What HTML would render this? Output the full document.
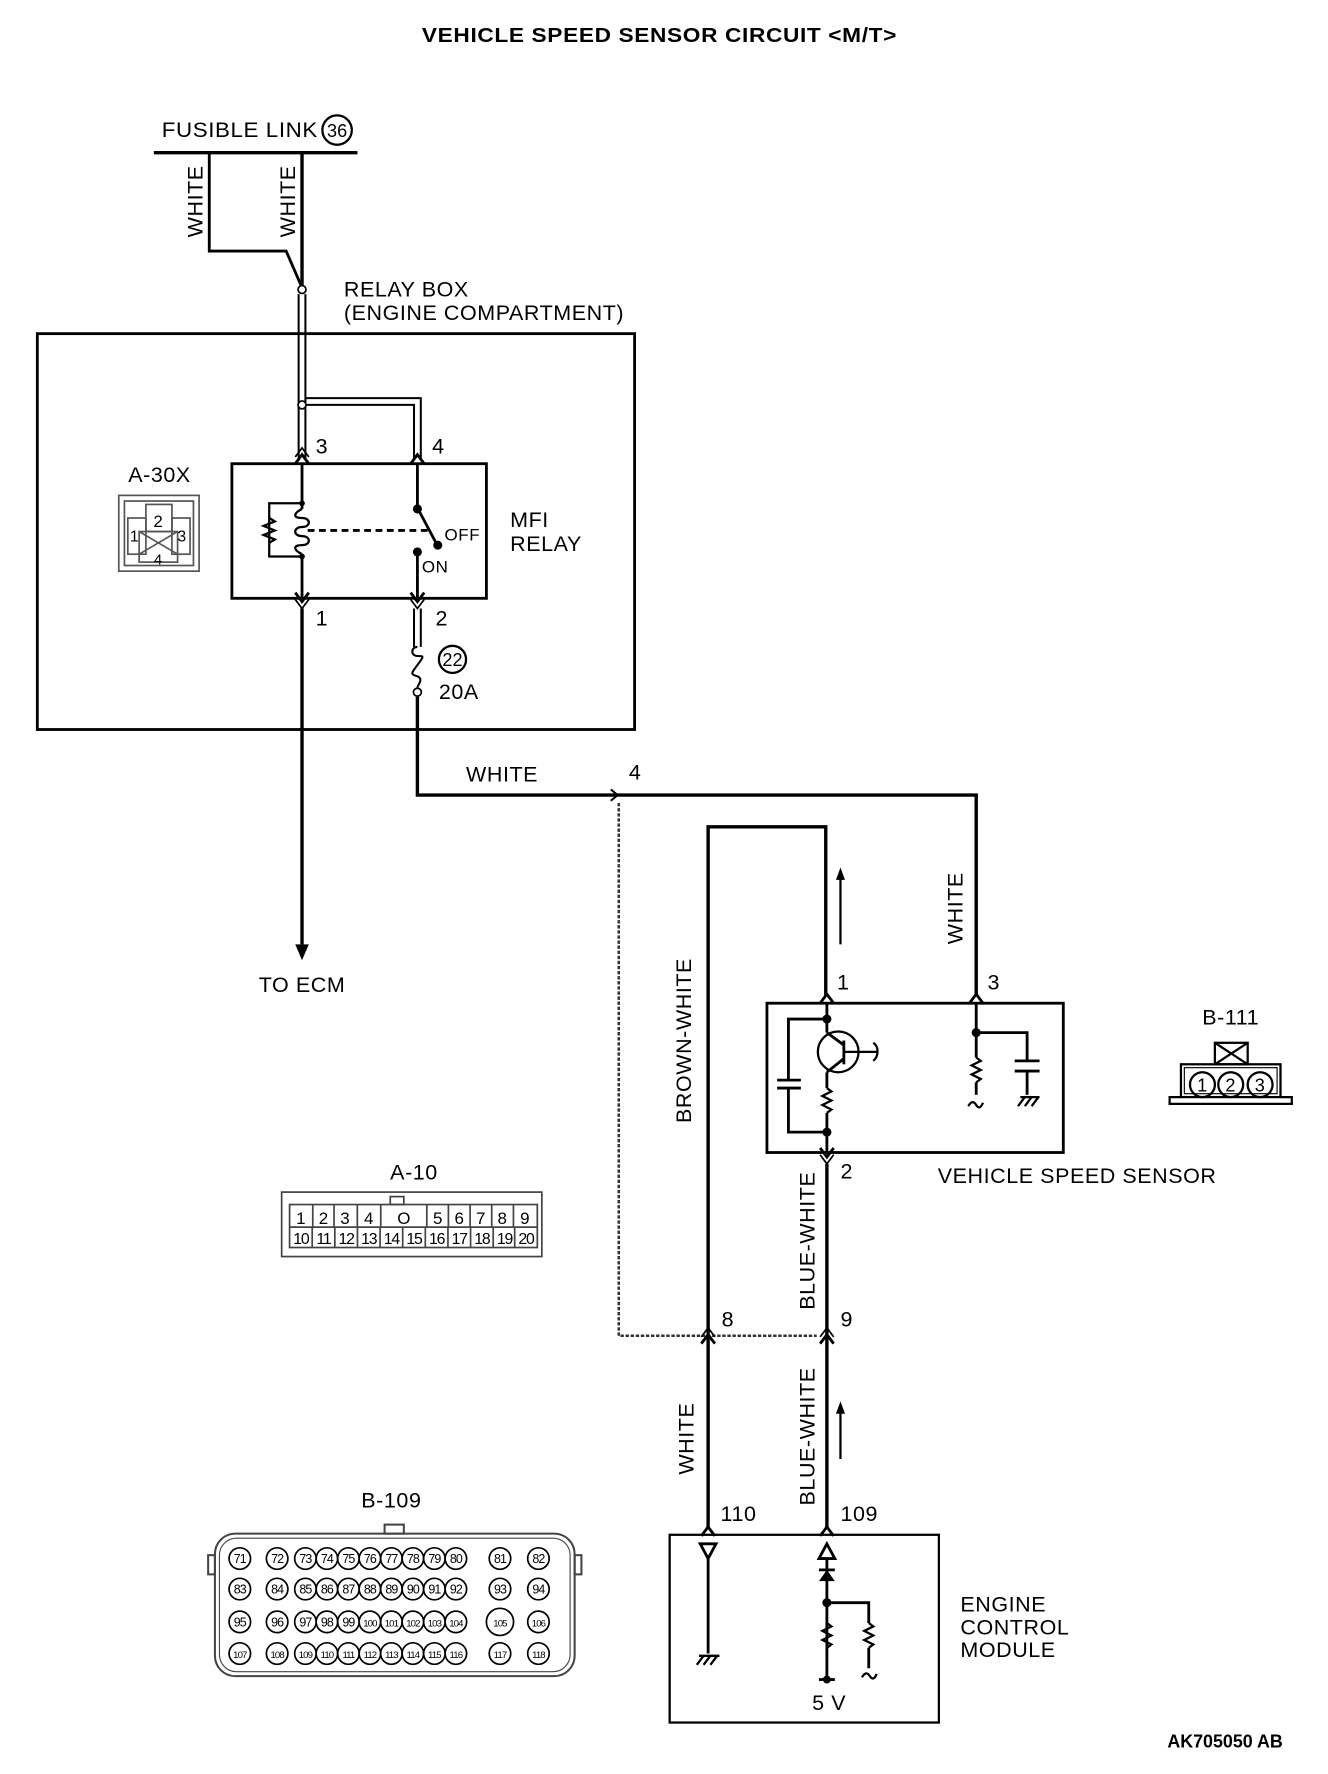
<!DOCTYPE html>
<html><head><meta charset="utf-8"><style>
html,body{margin:0;padding:0;background:#fff;}
svg{display:block;}
text{font-family:"Liberation Sans",sans-serif;fill:#000;}
</style></head><body>
<svg width="1328" height="1774" viewBox="0 0 1174 1568.5" preserveAspectRatio="none" xmlns="http://www.w3.org/2000/svg">
<g font-size="19" letter-spacing="0.5">
<text x="583" y="37" text-anchor="middle" font-weight="bold" font-size="18" textLength="420" lengthAdjust="spacingAndGlyphs" fill="#222">VEHICLE SPEED SENSOR CIRCUIT &lt;M/T&gt;</text>

<!-- fusible link -->
<text x="143" y="121" textLength="138" lengthAdjust="spacingAndGlyphs">FUSIBLE LINK</text>
<circle cx="298" cy="115" r="13" fill="none" stroke="#000" stroke-width="2"/>
<text x="298" y="121" text-anchor="middle" font-size="16" letter-spacing="0">36</text>
<line x1="136" y1="135" x2="316" y2="135" stroke="#000" stroke-width="3"/>
<polyline points="185,135 185,222 253,222 266,252" fill="none" stroke="#000" stroke-width="2.5"/>
<line x1="267" y1="135" x2="267" y2="252" stroke="#000" stroke-width="3"/>
<text transform="translate(179,178) rotate(-90)" text-anchor="middle">WHITE</text>
<text transform="translate(261,178) rotate(-90)" text-anchor="middle">WHITE</text>
<circle cx="267" cy="256" r="3.5" fill="#fff" stroke="#000" stroke-width="1.5"/>

<text x="304" y="262">RELAY BOX</text>
<text x="304" y="283">(ENGINE COMPARTMENT)</text>

<!-- relay box -->
<rect x="33" y="295" width="528" height="350" fill="none" stroke="#000" stroke-width="2.5"/>
<g stroke="#000" stroke-width="1.8" fill="none">
<line x1="264" y1="260" x2="264" y2="405"/><line x1="270" y1="260" x2="270" y2="405"/>
<polyline points="270,352 372,352 372,405"/><polyline points="270,358 366,358 366,405"/>
</g>
<circle cx="267" cy="358" r="3.5" fill="#fff" stroke="#000" stroke-width="1.5"/>
<text x="279" y="401">3</text><text x="382" y="401">4</text>
<text x="279" y="553">1</text><text x="385" y="553">2</text>

<rect x="205" y="410" width="225" height="119" fill="none" stroke="#000" stroke-width="2.5"/>
<g stroke="#000" stroke-width="2.5" fill="none">
<polyline points="261,410 267,402 273,410"/><polyline points="261,404 267,396 273,404" stroke-width="1.5"/>
<polyline points="363,410 369,402 375,410"/>
<polyline points="261,524 267,532 273,524"/><polyline points="261,530 267,538 273,530" stroke-width="1.5"/>
<polyline points="363,524 369,532 375,524"/><polyline points="363,530 369,538 375,530" stroke-width="1.5"/>
<line x1="267" y1="410" x2="267" y2="450"/><line x1="267" y1="490" x2="267" y2="529"/>
<path d="M267,450 c-8,4 -8,8 0,8 c8,0 8,8 0,8 c-8,0 -8,8 0,8 c8,0 8,8 0,8 c-8,0 -8,4 0,8" stroke-width="2"/>
<polyline points="267,445 238,445 238,492 267,492" stroke-width="2"/>
<polyline points="238,458 243,461 233,465 243,469 233,473 243,477 238,480" stroke-width="2"/>
<line x1="272" y1="469" x2="380" y2="469" stroke-dasharray="6,4"/>
<line x1="369" y1="410" x2="369" y2="449"/>
<line x1="369" y1="449" x2="386" y2="481"/>
<line x1="369" y1="488" x2="369" y2="529"/>
</g>
<circle cx="267" cy="445" r="2.5"/><circle cx="267" cy="492" r="2.5"/>
<circle cx="369" cy="450" r="4"/><circle cx="387" cy="482" r="4"/><circle cx="369" cy="488" r="4"/>
<text x="393" y="478" font-size="15">OFF</text>
<text x="373" y="506" font-size="15">ON</text>
<text x="451" y="466">MFI</text><text x="451" y="487">RELAY</text>

<!-- A-30X -->
<text x="141" y="426" text-anchor="middle">A-30X</text>
<g stroke="#555" stroke-width="1.5" fill="none">
<rect x="105" y="438" width="71" height="67"/>
<rect x="110" y="443" width="61" height="57"/>
<rect x="129" y="446" width="23" height="24"/>
<rect x="113" y="458" width="16" height="32"/>
<rect x="152" y="458" width="16" height="32"/>
<rect x="123" y="470" width="34" height="27"/>
<path d="M123,470 L157,490 M157,470 L123,490"/>
</g>
<text x="140" y="466" text-anchor="middle" font-size="15">2</text>
<text x="119" y="479" text-anchor="middle" font-size="14">1</text>
<text x="161" y="479" text-anchor="middle" font-size="14">3</text>
<text x="140" y="499" text-anchor="middle" font-size="13">4</text>

<!-- to ECM -->
<line x1="267" y1="538" x2="267" y2="835" stroke="#000" stroke-width="3"/>
<polygon points="261,835 273,835 267,849"/>
<text x="267" y="877" text-anchor="middle">TO ECM</text>

<!-- fuse -->
<g stroke="#000" stroke-width="1.8" fill="none">
<line x1="366" y1="538" x2="366" y2="572"/><line x1="372" y1="538" x2="372" y2="572"/>
<path d="M369,572 c-6,0 -6,8 0,8 c6,0 6,0 0,8 c-6,8 -6,8 0,10 c6,2 0,8 0,10"/>
</g>
<circle cx="369" cy="612" r="3.5" fill="#fff" stroke="#000" stroke-width="1.5"/>
<circle cx="400" cy="583" r="12" fill="none" stroke="#000" stroke-width="2"/>
<text x="400" y="589" text-anchor="middle" font-size="16" letter-spacing="0">22</text>
<text x="388" y="618">20A</text>

<!-- white to VSS pin 3 -->
<polyline points="369,616 369,703 863,703 863,880" fill="none" stroke="#000" stroke-width="3"/>
<polyline points="540,698 546,703 540,708 M546,698 552,703 546,708" fill="none" stroke="#000" stroke-width="1.8"/>
<text x="412" y="691">WHITE</text>
<text x="556" y="689">4</text>
<polyline points="547,710 547,1181 722,1181" fill="none" stroke="#333" stroke-width="2.2" stroke-dasharray="3,1.5"/>

<!-- brown-white loop -->
<polyline points="626,1182 626,731 730,731 730,880" fill="none" stroke="#000" stroke-width="3"/>
<text transform="translate(611,920) rotate(-90)" text-anchor="middle">BROWN-WHITE</text>
<line x1="743" y1="835" x2="743" y2="775" stroke="#000" stroke-width="2"/>
<polygon points="739,778 747,778 743,767"/>
<text transform="translate(851,803) rotate(-90)" text-anchor="middle">WHITE</text>
<text x="740" y="875">1</text><text x="873" y="875">3</text>

<!-- VSS -->
<rect x="678" y="887" width="262" height="132" fill="none" stroke="#000" stroke-width="2.5"/>
<g stroke="#000" stroke-width="2.5" fill="none">
<polyline points="725,887 731,879 737,887"/><polyline points="857,887 863,879 869,887"/>
<polyline points="725,1015 731,1023 737,1015"/><polyline points="725,1021 731,1029 737,1021" stroke-width="1.5"/>
<line x1="731" y1="887" x2="731" y2="913"/>
<polyline points="731,901 697,901 697,955"/><polyline points="697,962 697,1001 731,1001"/>
<line x1="687" y1="955" x2="708" y2="955"/><line x1="687" y1="962" x2="708" y2="962"/>
<circle cx="741" cy="930" r="18" stroke-width="2"/>
<line x1="731" y1="913" x2="746" y2="924"/><line x1="746" y1="936" x2="731" y2="948"/>
<line x1="746" y1="920" x2="746" y2="941"/>
<line x1="746" y1="930" x2="775" y2="930" stroke-width="2"/>
<path d="M772,922 c5,3 5,12 0,16" stroke-width="2"/>
<line x1="731" y1="948" x2="731" y2="962"/>
<polyline points="731,962 735,965 727,969 735,973 727,977 735,981 731,984" stroke-width="2"/>
<line x1="731" y1="984" x2="731" y2="1019"/>
<line x1="863" y1="887" x2="863" y2="935"/>
<polyline points="863,913 908,913 908,938"/>
<line x1="897" y1="938" x2="919" y2="938"/><line x1="897" y1="947" x2="919" y2="947"/>
<line x1="908" y1="947" x2="908" y2="968"/>
<path d="M900,978 l6,-8 M906,978 l6,-8 M912,978 l6,-8 M902,970 h17" stroke-width="2"/>
<polyline points="863,935 867,938 859,942 867,946 859,950 867,954 863,957" stroke-width="2"/>
<line x1="863" y1="957" x2="863" y2="968"/>
<path d="M856,978 c3,-5 5,-4 7,-1 c2,3 4,3 6,-2" stroke-width="2"/>
</g>
<circle cx="731" cy="901" r="4"/><circle cx="731" cy="1001" r="4"/><circle cx="863" cy="913" r="4"/>
<text x="743" y="1042">2</text>
<text x="829" y="1046">VEHICLE SPEED SENSOR</text>

<!-- B-111 -->
<text x="1088" y="906" text-anchor="middle">B-111</text>
<g stroke="#000" stroke-width="2" fill="none">
<rect x="1074" y="922" width="29" height="19"/>
<path d="M1074,922 L1103,941 M1103,922 L1074,941"/>
<rect x="1044" y="941" width="88" height="29"/>
<rect x="1047" y="944" width="82" height="23" stroke-width="1"/>
<polyline points="1044,970 1034,970 1034,976 1142,976 1142,970 1132,970"/>
<circle cx="1063" cy="959" r="11"/><circle cx="1088" cy="959" r="11"/><circle cx="1114" cy="959" r="11"/>
</g>
<text x="1063" y="965" text-anchor="middle" font-size="16">1</text>
<text x="1088" y="965" text-anchor="middle" font-size="16">2</text>
<text x="1114" y="965" text-anchor="middle" font-size="16">3</text>

<!-- blue-white -->
<line x1="731" y1="1029" x2="731" y2="1352" stroke="#000" stroke-width="3"/>
<line x1="626" y1="1182" x2="626" y2="1352" stroke="#000" stroke-width="3"/>
<g stroke="#000" stroke-width="2.5" fill="none">
<polyline points="620,1188 626,1180 632,1188"/><polyline points="725,1188 731,1180 737,1188"/>
<polyline points="620,1182 626,1174 632,1182" stroke-width="1.5"/><polyline points="725,1182 731,1174 737,1182" stroke-width="1.5"/>
<polyline points="620,1358 626,1350 632,1358"/><polyline points="725,1358 731,1350 737,1358"/>
</g>
<text transform="translate(720,1097) rotate(-90)" text-anchor="middle">BLUE-WHITE</text>
<text transform="translate(720,1270) rotate(-90)" text-anchor="middle">BLUE-WHITE</text>
<text transform="translate(613,1272) rotate(-90)" text-anchor="middle">WHITE</text>
<text x="638" y="1173">8</text><text x="743" y="1173">9</text>
<text x="637" y="1345">110</text><text x="743" y="1345">109</text>
<line x1="743" y1="1290" x2="743" y2="1247" stroke="#000" stroke-width="2"/>
<polygon points="739,1250 747,1250 743,1239"/>

<!-- ECM -->
<rect x="592" y="1357" width="238" height="166" fill="none" stroke="#000" stroke-width="2"/>
<g stroke="#000" stroke-width="2.5" fill="none">
<polygon points="619,1365 633,1365 626,1378"/>
<line x1="626" y1="1378" x2="626" y2="1462"/>
<path d="M616,1472 l6,-8 M622,1472 l6,-8 M628,1472 l6,-8 M618,1464 h18" stroke-width="2"/>
<polygon points="731,1365 724,1378 738,1378"/>
<line x1="731" y1="1378" x2="731" y2="1483"/>
<polyline points="731,1417 768,1417 768,1435"/>
<polyline points="731,1435 735,1438 727,1442 735,1446 727,1450 735,1454 731,1457" stroke-width="2"/>
<polyline points="768,1435 772,1438 764,1442 772,1446 764,1450 772,1454 768,1457" stroke-width="2"/>
<line x1="768" y1="1457" x2="768" y2="1475"/>
<path d="M762,1483 c3,-5 5,-4 7,-1 c2,3 4,3 6,-2" stroke-width="2"/>
<line x1="724" y1="1485" x2="738" y2="1485"/>
</g>
<polygon points="724,1398 738,1398 731,1388"/><line x1="724" y1="1388" x2="738" y2="1388" stroke="#000" stroke-width="2.5"/>
<circle cx="731" cy="1417" r="4"/><circle cx="731" cy="1485" r="3.5"/>
<text x="718" y="1512">5 V</text>
<text x="849" y="1425">ENGINE</text>
<text x="849" y="1445">CONTROL</text>
<text x="849" y="1465">MODULE</text>

<!-- A-10 -->
<text x="366" y="1043" text-anchor="middle">A-10</text>
<g stroke="#444" stroke-width="1.5" fill="none">
<rect x="249" y="1054" width="230" height="57"/>
<rect x="256" y="1065" width="219" height="38"/>
<line x1="256" y1="1085" x2="475" y2="1085"/>
<path d="M276.5,1065V1085M295.3,1065V1085M315.9,1065V1085M336.6,1065V1085M377.3,1065V1085M396.4,1065V1085M415.6,1065V1085M434.7,1065V1085M453.9,1065V1085"/>
<path d="M276,1085V1103M296,1085V1103M316,1085V1103M336,1085V1103M356,1085V1103M376,1085V1103M396,1085V1103M416,1085V1103M436,1085V1103M455,1085V1103"/>
<rect x="345" y="1058" width="12" height="7"/>
</g>
<g font-size="15" text-anchor="middle" letter-spacing="0">
<text x="266" y="1082">1</text><text x="286" y="1082">2</text><text x="305" y="1082">3</text><text x="326" y="1082">4</text><text x="357" y="1082">O</text>
<text x="387" y="1082">5</text><text x="406" y="1082">6</text><text x="425" y="1082">7</text><text x="444" y="1082">8</text><text x="464" y="1082">9</text>
</g>
<g font-size="14" text-anchor="middle" letter-spacing="-1">
<text x="266" y="1100">10</text><text x="286" y="1100">11</text><text x="306" y="1100">12</text><text x="326" y="1100">13</text><text x="346" y="1100">14</text><text x="366" y="1100">15</text><text x="386" y="1100">16</text><text x="406" y="1100">17</text><text x="426" y="1100">18</text><text x="446" y="1100">19</text><text x="465" y="1100">20</text>
</g>

<!-- B-109 -->
<text x="346" y="1333" text-anchor="middle">B-109</text>
<g stroke="#444" stroke-width="1.8" fill="none">
<rect x="190" y="1356" width="318" height="126" rx="18"/>
<rect x="194" y="1360" width="310" height="118" rx="15" stroke-width="1"/>
<rect x="340" y="1348" width="17" height="8"/>
<rect x="184" y="1375" width="6" height="17"/>
<rect x="508" y="1375" width="6" height="17"/>
</g>
<g stroke="#000" stroke-width="1.5" fill="none">
<circle cx="212" cy="1378" r="9.5"/><circle cx="245" cy="1378" r="9.5"/><circle cx="270" cy="1378" r="9.5"/><circle cx="289" cy="1378" r="9.5"/><circle cx="308" cy="1378" r="9.5"/><circle cx="327" cy="1378" r="9.5"/><circle cx="346" cy="1378" r="9.5"/><circle cx="365" cy="1378" r="9.5"/><circle cx="384" cy="1378" r="9.5"/><circle cx="403" cy="1378" r="9.5"/><circle cx="442" cy="1378" r="9.5"/><circle cx="476" cy="1378" r="9.5"/>
<circle cx="212" cy="1405" r="9.5"/><circle cx="245" cy="1405" r="9.5"/><circle cx="270" cy="1405" r="9.5"/><circle cx="289" cy="1405" r="9.5"/><circle cx="308" cy="1405" r="9.5"/><circle cx="327" cy="1405" r="9.5"/><circle cx="346" cy="1405" r="9.5"/><circle cx="365" cy="1405" r="9.5"/><circle cx="384" cy="1405" r="9.5"/><circle cx="403" cy="1405" r="9.5"/><circle cx="442" cy="1405" r="9.5"/><circle cx="476" cy="1405" r="9.5"/>
<circle cx="212" cy="1434" r="9.5"/><circle cx="245" cy="1434" r="9.5"/><circle cx="270" cy="1434" r="9.5"/><circle cx="289" cy="1434" r="9.5"/><circle cx="308" cy="1434" r="9.5"/><circle cx="327" cy="1434" r="9.5"/><circle cx="346" cy="1434" r="9.5"/><circle cx="365" cy="1434" r="9.5"/><circle cx="384" cy="1434" r="9.5"/><circle cx="403" cy="1434" r="9.5"/><circle cx="442" cy="1434" r="12"/><circle cx="476" cy="1434" r="9.5"/>
<circle cx="212" cy="1462" r="9.5"/><circle cx="245" cy="1462" r="9.5"/><circle cx="270" cy="1462" r="9.5"/><circle cx="289" cy="1462" r="9.5"/><circle cx="308" cy="1462" r="9.5"/><circle cx="327" cy="1462" r="9.5"/><circle cx="346" cy="1462" r="9.5"/><circle cx="365" cy="1462" r="9.5"/><circle cx="384" cy="1462" r="9.5"/><circle cx="403" cy="1462" r="9.5"/><circle cx="442" cy="1462" r="9.5"/><circle cx="476" cy="1462" r="9.5"/>
</g>
<g font-size="11" text-anchor="middle" letter-spacing="-0.8">
<text x="212" y="1382">71</text><text x="245" y="1382">72</text><text x="270" y="1382">73</text><text x="289" y="1382">74</text><text x="308" y="1382">75</text><text x="327" y="1382">76</text><text x="346" y="1382">77</text><text x="365" y="1382">78</text><text x="384" y="1382">79</text><text x="403" y="1382">80</text><text x="442" y="1382">81</text><text x="476" y="1382">82</text>
<text x="212" y="1409">83</text><text x="245" y="1409">84</text><text x="270" y="1409">85</text><text x="289" y="1409">86</text><text x="308" y="1409">87</text><text x="327" y="1409">88</text><text x="346" y="1409">89</text><text x="365" y="1409">90</text><text x="384" y="1409">91</text><text x="403" y="1409">92</text><text x="442" y="1409">93</text><text x="476" y="1409">94</text>
<text x="212" y="1438">95</text><text x="245" y="1438">96</text><text x="270" y="1438">97</text><text x="289" y="1438">98</text><text x="308" y="1438">99</text><text x="327" y="1438" font-size="8.5">100</text><text x="346" y="1438" font-size="8.5">101</text><text x="365" y="1438" font-size="8.5">102</text><text x="384" y="1438" font-size="8.5">103</text><text x="403" y="1438" font-size="8.5">104</text><text x="442" y="1438" font-size="8.5">105</text><text x="476" y="1438" font-size="8.5">106</text>
<text x="212" y="1466" font-size="8.5">107</text><text x="245" y="1466" font-size="8.5">108</text><text x="270" y="1466" font-size="8.5">109</text><text x="289" y="1466" font-size="8.5">110</text><text x="308" y="1466" font-size="8.5">111</text><text x="327" y="1466" font-size="8.5">112</text><text x="346" y="1466" font-size="8.5">113</text><text x="365" y="1466" font-size="8.5">114</text><text x="384" y="1466" font-size="8.5">115</text><text x="403" y="1466" font-size="8.5">116</text><text x="442" y="1466" font-size="8.5">117</text><text x="476" y="1466" font-size="8.5">118</text>
</g>

<text x="1134" y="1545" text-anchor="end" font-weight="bold" font-size="16" textLength="102" lengthAdjust="spacingAndGlyphs" letter-spacing="0">AK705050 AB</text>
</g>
</svg>
</body></html>
